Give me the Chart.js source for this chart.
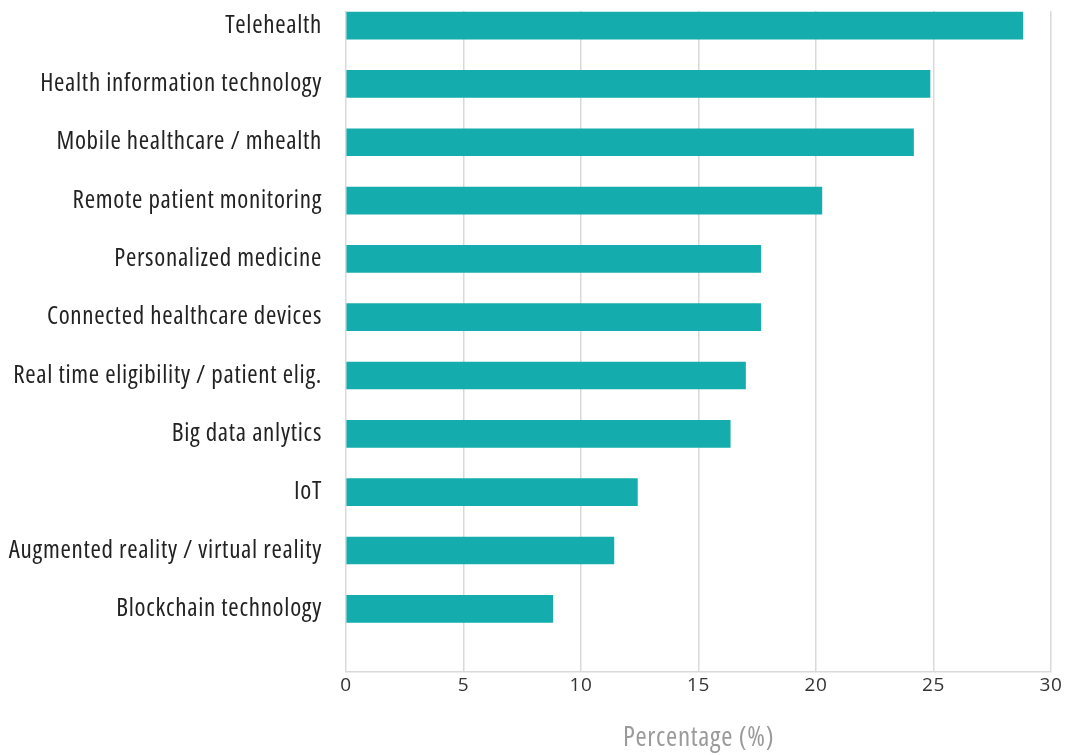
<!DOCTYPE html>
<html>
<head>
<meta charset="utf-8">
<script src="https://cdn.jsdelivr.net/npm/chart.js@4.4.1/dist/chart.umd.min.js"></script>
<style>
  html, body { margin: 0; padding: 0; background: #fff; }
  #wrap { width: 1068px; height: 755px; position: relative; }
</style>
</head>
<body>
<div id="wrap"><canvas id="chart"></canvas></div>
<script>
const categories = [
    'Telehealth',
    'Health information technology',
    'Mobile healthcare / mhealth',
    'Remote patient monitoring',
    'Personalized medicine',
    'Connected healthcare devices',
    'Real time eligibility / patient elig.',
    'Big data anlytics',
    'IoT',
    'Augmented reality / virtual reality',
    'Blockchain technology'
];
const percentages = [28.8, 24.85, 24.15, 20.25, 17.65, 17.65, 17.0, 16.35, 12.4, 11.4, 8.8];
const xTicks = [0, 5, 10, 15, 20, 25, 30];

// condensed face: Chart.js passes weight straight into the canvas font string
const labelFont = "'Open Sans', sans-serif";
const narrow = 'condensed';

// bars sit on a numeric index axis so the rows can be shifted inside the grid
const points = percentages.map((v, i) => ({ x: v, y: i }));

// open the condensed face up a little
const spacing = {
    id: 'spacing',
    beforeDraw(chart) { chart.ctx.letterSpacing = '0.7px'; }
};

new Chart(document.getElementById('chart').getContext('2d'), {
    type: 'bar',
    data: {
        datasets: [{
            data: points,
            backgroundColor: '#15acad',
            barThickness: 27,
            borderWidth: 0
        }]
    },
    plugins: [spacing],
    options: {
        indexAxis: 'y',
        responsive: true,
        maintainAspectRatio: false,
        animation: false,
        layout: { padding: { top: 11, right: 17, bottom: 0, left: 0 } },
        plugins: {
            legend: { display: false },
            tooltip: { enabled: false }
        },
        scales: {
            x: {
                type: 'linear',
                min: xTicks[0],
                max: xTicks[xTicks.length - 1],
                afterBuildTicks: scale => { scale.ticks = xTicks.map(v => ({ value: v })); },
                grid: { color: '#d9d9d9', lineWidth: 1.5, drawTicks: false },
                border: { color: '#d9d9d9', width: 1.5 },
                ticks: {
                    color: '#333',
                    padding: 2,
                    font: { family: "'Open Sans', sans-serif", size: 19 }
                },
                title: {
                    display: true,
                    text: 'Percentage (%)',
                    color: '#9a9a9a',
                    padding: { top: 24, bottom: 0 },
                    font: { family: labelFont, weight: narrow, size: 27 }
                }
            },
            y: {
                type: 'linear',
                reverse: true,
                offset: false,
                min: -0.25,
                max: 11.08,
                afterFit: scale => {
                    scale.width = 346;
                    scale.paddingTop = 0;
                    scale.paddingBottom = 0;
                },
                grid: { display: false, drawTicks: false, offset: false },
                border: { display: false },
                ticks: {
                    stepSize: 1,
                    maxTicksLimit: 20,
                    includeBounds: false,
                    autoSkip: false,
                    padding: 24,
                    color: '#222',
                    font: { family: labelFont, weight: narrow, size: 25 },
                    callback: v => (Number.isInteger(v) && categories[v] !== undefined) ? categories[v] : ''
                }
            }
        }
    }
});
</script>
</body>
</html>
